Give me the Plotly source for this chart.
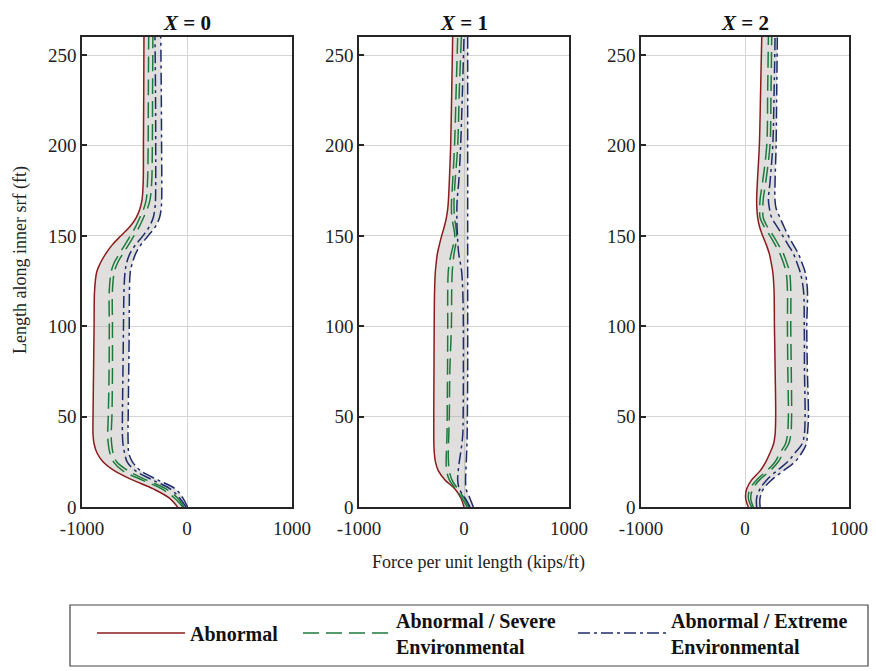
import plotly.graph_objects as go

# Heights along the inner surface (ft), shared by every curve
length_ft = [0, 5, 10, 15, 20, 25, 30, 35, 40, 50, 75, 100, 120, 130, 135,
             140, 145, 150, 155, 160, 165, 170, 180, 200, 230, 260]

# ---- X = 0 : force per unit length (kips/ft)
x0_abnormal = [-90, -170, -320, -520, -690, -800, -858, -885, -895, -895, -890, -885, -880,
               -860, -825, -775, -712, -630, -545, -485, -448, -428, -417, -415, -412, -410]
x0_severe_a = [-40, -120, -240, -430, -610, -700, -735, -750, -755, -750, -742, -740, -740,
               -722, -695, -645, -592, -540, -490, -450, -412, -388, -376, -370, -368, -365]
x0_severe_b = [-30, -90, -200, -390, -560, -670, -705, -718, -722, -715, -710, -710, -710,
               -692, -662, -612, -557, -505, -455, -415, -377, -352, -336, -330, -328, -325]
x0_extreme_a = [-10, -70, -160, -330, -490, -570, -595, -610, -615, -615, -610, -605, -600,
                -590, -575, -545, -490, -420, -360, -322, -306, -300, -298, -298, -300, -305]
x0_extreme_b = [5, -40, -110, -280, -440, -520, -555, -560, -562, -560, -555, -550, -548,
                -540, -520, -490, -440, -370, -302, -262, -246, -241, -240, -242, -245, -250]

# ---- X = 1
x1_abnormal = [0, -30, -86, -181, -244, -272, -283, -287, -288, -288, -286, -284, -280,
               -273, -265, -254, -235, -213, -188, -168, -155, -148, -140, -127, -117, -108]
x1_severe_a = [30, -20, -80, -140, -165, -170, -168, -165, -162, -160, -157, -155, -155,
               -150, -140, -122, -102, -88, -100, -115, -120, -118, -108, -90, -75, -60]
x1_severe_b = [45, 0, -60, -115, -140, -148, -150, -148, -145, -140, -135, -120, -117,
               -112, -105, -95, -80, -70, -78, -90, -95, -95, -85, -60, -45, -25]
x1_extreme_a = [57, 10, -45, -60, -55, -45, -32, -20, -12, -8, -6, -6, -12,
                -22, -35, -50, -58, -62, -66, -68, -68, -65, -50, -32, -15, 0]
x1_extreme_b = [89, 55, 20, 15, 18, 22, 25, 28, 30, 32, 35, 35, 35,
                35, 35, 35, 35, 35, 35, 35, 35, 35, 35, 35, 35, 35]

# ---- X = 2
x2_abnormal = [32, 6, 16, 64, 145, 200, 241, 275, 289, 295, 290, 283, 279,
               267, 252, 234, 205, 170, 140, 122, 114, 112, 119, 138, 150, 161]
x2_severe_a = [64, 32, 48, 112, 209, 290, 337, 390, 408, 417, 412, 408, 408,
               395, 370, 337, 290, 241, 185, 145, 142, 145, 170, 209, 218, 225]
x2_severe_b = [80, 55, 75, 140, 240, 320, 368, 420, 440, 448, 445, 440, 440,
               428, 402, 370, 322, 272, 215, 175, 172, 175, 200, 240, 250, 257]
x2_extreme_a = [112, 112, 145, 209, 305, 410, 482, 550, 570, 578, 572, 570, 562,
                530, 500, 466, 415, 363, 310, 257, 235, 225, 241, 267, 280, 289]
x2_extreme_b = [145, 145, 177, 257, 369, 480, 546, 590, 600, 610, 600, 594, 600,
                578, 548, 514, 465, 417, 375, 337, 300, 288, 289, 299, 305, 311]

panels = [
    ("0", x0_abnormal, [x0_severe_a, x0_severe_b], [x0_extreme_a, x0_extreme_b]),
    ("1", x1_abnormal, [x1_severe_a, x1_severe_b], [x1_extreme_a, x1_extreme_b]),
    ("2", x2_abnormal, [x2_severe_a, x2_severe_b], [x2_extreme_a, x2_extreme_b]),
]

series_names = ["Abnormal", "Abnormal / Severe<br>Environmental",
                "Abnormal / Extreme<br>Environmental"]

x_ticks = [-1000, 0, 1000]
y_ticks = [0, 50, 100, 150, 200, 250]

RED = "#8a1c1c"
GREEN = "#1c7a3c"
NAVY = "#1e2c6c"
GREEN_DASH = "16px,7px"
NAVY_DASH = "12px,4px,3px,4px"
FONT = "Liberation Serif"

W, H = 876, 671
x_domains = [(82 / W, 292 / W), (359 / W, 569 / W), (641 / W, 849 / W)]
y_domain = (1 - 507 / H, 1 - 37 / H)

fig = go.Figure()

for i, (label, abnormal, severe, extreme) in enumerate(panels):
    xa = "x" if i == 0 else f"x{i + 1}"
    ya = "y" if i == 0 else f"y{i + 1}"
    curves = [abnormal] + severe + extreme
    lo = [min(vals) for vals in zip(*curves)]
    hi = [max(vals) for vals in zip(*curves)]

    # shaded envelope spanning all load cases
    fig.add_trace(go.Scatter(x=lo, y=length_ft, xaxis=xa, yaxis=ya, mode="lines",
                             line=dict(width=0, shape="spline"), showlegend=False,
                             hoverinfo="skip"))
    fig.add_trace(go.Scatter(x=hi, y=length_ft, xaxis=xa, yaxis=ya, mode="lines",
                             line=dict(width=0, shape="spline"), fill="tonextx",
                             fillcolor="rgba(175,170,165,0.38)", showlegend=False,
                             hoverinfo="skip"))

    fig.add_trace(go.Scatter(x=abnormal, y=length_ft, xaxis=xa, yaxis=ya, mode="lines",
                             name=series_names[0], legend="legend", showlegend=(i == 0),
                             line=dict(color=RED, width=1.5, shape="spline")))
    for j, s in enumerate(severe):
        fig.add_trace(go.Scatter(x=s, y=length_ft, xaxis=xa, yaxis=ya, mode="lines",
                                 name=series_names[1], legend="legend2",
                                 showlegend=(i == 0 and j == 0),
                                 line=dict(color=GREEN, width=1.5, shape="spline",
                                           dash=GREEN_DASH)))
    for j, e in enumerate(extreme):
        fig.add_trace(go.Scatter(x=e, y=length_ft, xaxis=xa, yaxis=ya, mode="lines",
                                 name=series_names[2], legend="legend3",
                                 showlegend=(i == 0 and j == 0),
                                 line=dict(color=NAVY, width=1.5, shape="spline",
                                           dash=NAVY_DASH)))

    axis_common = dict(showline=True, linecolor="#262626", linewidth=1.5, mirror=True,
                       showgrid=True, gridcolor="#d4d4d4", gridwidth=1, zeroline=False,
                       tickfont=dict(family=FONT, size=19, color="#222222"))
    fig.layout[("xaxis" if i == 0 else f"xaxis{i + 1}")] = dict(
        domain=x_domains[i], anchor=ya, range=[-1000, 1000], tickvals=x_ticks,
        ticktext=[str(v) for v in x_ticks], ticks="", ticklabelstandoff=3, **axis_common)
    fig.layout[("yaxis" if i == 0 else f"yaxis{i + 1}")] = dict(
        domain=y_domain, anchor=xa, range=[0, 260], tickvals=y_ticks,
        ticks="inside", ticklen=5, tickwidth=1.5, tickcolor="#262626", **axis_common)

    fig.add_annotation(text=f"<b><i>X</i> = {label}</b>", xref="paper", yref="paper",
                       x=sum(x_domains[i]) / 2, y=1 - 23 / H, xanchor="center",
                       yanchor="middle", showarrow=False,
                       font=dict(family=FONT, size=21, color="#111111"))

fig.add_annotation(text="Force per unit length (kips/ft)", xref="paper", yref="paper",
                   x=478 / W, y=1 - 562 / H, xanchor="center", yanchor="middle",
                   showarrow=False, font=dict(family=FONT, size=18, color="#222222"))
fig.add_annotation(text="Length along inner srf (ft)", xref="paper", yref="paper",
                   x=20 / W, y=1 - 260 / H, xanchor="center", yanchor="middle",
                   textangle=-90, showarrow=False,
                   font=dict(family=FONT, size=18, color="#222222"))

# legend frame enclosing the three key entries
fig.add_shape(type="rect", xref="paper", yref="paper",
              x0=70 / W, x1=868 / W, y0=1 - 666 / H, y1=1 - 605 / H,
              line=dict(color="#444444", width=1.2), fillcolor="white", layer="below")

legend_font = dict(family=FONT, size=20, color="#111111", weight="bold")
legend_common = dict(orientation="h", xanchor="left", yanchor="middle", y=1 - 633 / H,
                     borderwidth=0, bgcolor="rgba(0,0,0,0)", itemwidth=88,
                     valign="middle", font=legend_font)

fig.update_layout(
    width=W, height=H,
    margin=dict(l=0, r=0, t=0, b=0, autoexpand=False),
    paper_bgcolor="white", plot_bgcolor="white",
    legend=dict(x=92 / W, **legend_common),
    legend2=dict(x=298 / W, **legend_common),
    legend3=dict(x=573 / W, **legend_common),
)

fig.write_html("out.html")
